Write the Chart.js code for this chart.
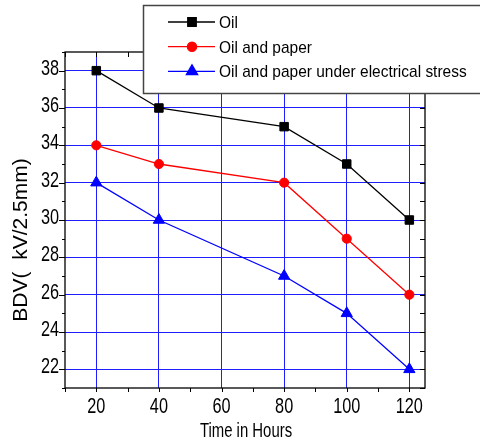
<!DOCTYPE html>
<html>
<head>
<meta charset="utf-8">
<script src="https://cdn.jsdelivr.net/npm/chart.js@4.4.1/dist/chart.umd.min.js"></script>
<style>
  html,body{margin:0;padding:0;background:#fff}
  #wrap{width:480px;height:443px;position:relative}
</style>
</head>
<body>
<div id="wrap"><canvas id="bdv"></canvas></div>
<script>
'use strict';

// ── DATA ─────────────────────────────────────────────────
const hours          = [20, 40, 80, 100, 120];
const oil            = [38, 36, 35, 33, 30];
const oilPaper       = [34, 33, 32, 29, 26];
const oilPaperStress = [32, 30, 27, 25, 22];
const seriesLabels   = ['Oil', 'Oil and paper', 'Oil and paper under electrical stress'];
const xTicks = [20, 40, 60, 80, 100, 120];
const yTicks = [22, 24, 26, 28, 30, 32, 34, 36, 38];
const xTitle = 'Time in Hours';
const yTitle = 'BDV(  kV/2.5mm)';

const FONT = '"Liberation Sans", Arial, sans-serif';

// condensed text helper (original uses a squeezed Arial)
function txt(ctx, s, x, y, size, sx, align){
  ctx.save();
  ctx.font = size + 'px ' + FONT;
  ctx.fillStyle = '#000';
  ctx.textAlign = align;
  ctx.textBaseline = 'alphabetic';
  ctx.translate(x, y);
  ctx.scale(sx, 1);
  ctx.fillText(s, 0, 0);
  ctx.restore();
}

// ── FRAME / TICKS / LABELS / LEGEND ─────────────────────
const decor = {
  id: 'decor',
  beforeDatasetsDraw(chart){
    const {ctx, chartArea:a, scales:{x, y}} = chart;
    ctx.save();
    ctx.strokeStyle = '#000';
    ctx.lineWidth = 1.3;
    ctx.strokeRect(a.left, a.top, a.right - a.left, a.bottom - a.top);

    ctx.lineWidth = 1;
    ctx.beginPath();
    // x ticks every 10 : bottom outward, top inward
    for (let v = Math.ceil(x.min / 10) * 10; v <= x.max; v += 10){
      const px = Math.round(x.getPixelForValue(v)) + 0.5;
      ctx.moveTo(px, a.bottom); ctx.lineTo(px, a.bottom + 4);
      ctx.moveTo(px, a.top);    ctx.lineTo(px, a.top + 5);
    }
    // y ticks every 1 : left outward (major longer), right inward
    for (let v = Math.ceil(y.min); v <= y.max; v += 1){
      const py = Math.round(y.getPixelForValue(v)) + 0.5;
      const len = v % 2 === 0 ? 6 : 3;
      ctx.moveTo(a.left - len, py); ctx.lineTo(a.left, py);
      ctx.moveTo(a.right - 5, py);  ctx.lineTo(a.right, py);
    }
    ctx.stroke();
    ctx.restore();

    // tick labels
    x.ticks.forEach(t => txt(ctx, String(t.value), x.getPixelForValue(t.value), 413, 22, 0.74, 'center'));
    y.ticks.forEach(t => txt(ctx, String(t.value), 59, y.getPixelForValue(t.value) + 4, 22, 0.74, 'right'));

    // axis titles
    txt(ctx, xTitle, (a.left + a.right) / 2 + 1, 437, 21, 0.71, 'center');
    ctx.save();
    ctx.font = '21px ' + FONT;
    ctx.fillStyle = '#000';
    ctx.textAlign = 'center';
    ctx.textBaseline = 'alphabetic';
    ctx.translate(27, 240);
    ctx.rotate(-Math.PI / 2);
    ctx.fillText(yTitle, 0, 0);
    ctx.restore();
  },
  afterDraw(chart){
    const {ctx} = chart;
    ctx.save();
    ctx.fillStyle = '#fff';
    ctx.strokeStyle = '#444';
    ctx.lineWidth = 1.5;
    ctx.fillRect(143.5, 5.5, 345, 88);
    ctx.strokeRect(143.5, 5.5, 345, 88);
    chart.data.datasets.forEach((ds, i) => {
      const ry = 22 + i * 24.7;
      ctx.strokeStyle = ds.borderColor;
      ctx.lineWidth = ds.borderWidth;
      ctx.beginPath();
      ctx.moveTo(168, ry); ctx.lineTo(215, ry);
      ctx.stroke();
      ctx.fillStyle = ds.pointBackgroundColor;
      ctx.strokeStyle = ds.borderColor;
      Chart.helpers.drawPoint(ctx, {pointStyle: ds.pointStyle, radius: ds.pointRadius, rotation: 0, borderWidth: 1}, 192, ry);
      txt(ctx, ds.label, 219, ry + 6, 17, 0.91, 'left');
    });
    ctx.restore();
  }
};

function series(label, values, color, style, radius){
  return {
    label,
    data: hours.map((h, i) => ({x: h, y: values[i]})),
    borderColor: color,
    backgroundColor: color,
    pointBackgroundColor: color,
    pointBorderColor: color,
    borderWidth: 1.3,
    pointStyle: style,
    pointRadius: radius,
    pointHoverRadius: radius,
    pointBorderWidth: 1,
    tension: 0
  };
}

new Chart(document.getElementById('bdv').getContext('2d'), {
  type: 'line',
  data: {
    datasets: [
      series(seriesLabels[0], oil,            '#000000', 'rect',     6),
      series(seriesLabels[1], oilPaper,       '#ff0000', 'circle',   4.6),
      series(seriesLabels[2], oilPaperStress, '#0000ff', 'triangle', 6.5)
    ]
  },
  options: {
    responsive: true,
    maintainAspectRatio: false,
    animation: false,
    layout: { padding: { left: 65, top: 52, right: 55, bottom: 55 } },
    plugins: { legend: { display: false }, tooltip: { enabled: false } },
    scales: {
      x: {
        type: 'linear', min: 10, max: 125,
        ticks: { display: false },
        grid: { color: 'rgb(30,30,255)', lineWidth: 1, drawTicks: false },
        border: { display: false },
        afterBuildTicks(s){ s.ticks = xTicks.map(v => ({value: v})); },
        afterFit(s){ s.height = 0; }
      },
      y: {
        type: 'linear', min: 21, max: 39,
        ticks: { display: false },
        grid: { color: 'rgb(30,30,255)', lineWidth: 1, drawTicks: false },
        border: { display: false },
        afterBuildTicks(s){ s.ticks = yTicks.map(v => ({value: v})); },
        afterFit(s){ s.width = 0; }
      }
    }
  },
  plugins: [decor]
});
</script>
</body>
</html>
